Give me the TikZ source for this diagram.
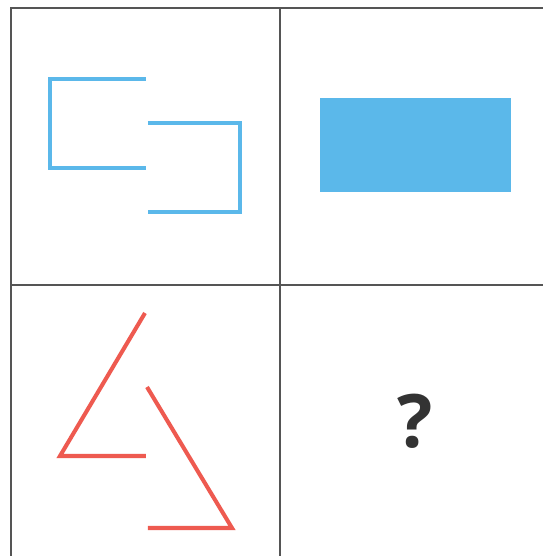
\documentclass[tikz,border=0pt]{standalone}
\usepackage{fontspec}
\newfontfamily\qfont{Open Sans}
\usetikzlibrary{positioning}
\definecolor{skyblue}{HTML}{5BB8EA}
\definecolor{coral}{HTML}{EE5A50}
\definecolor{gridgray}{HTML}{555555}
\definecolor{qgray}{HTML}{333333}

\begin{document}
\begin{tikzpicture}[
    x=0.02cm, y=-0.02cm,
    gridline/.style={draw=gridgray, line width=1.1pt},
    bluebracket/.style={draw=skyblue, line width=2.3pt, miter limit=10},
    redangle/.style={draw=coral, line width=2.3pt, miter limit=10},
    bluebox/.style={fill=skyblue},
    qmark/.style={font=\qfont\bfseries\fontsize{42}{42}\selectfont, text=qgray, inner sep=0pt}
]
    \useasboundingbox (0,0) rectangle (543,556);
    \fill[white] (0,0) rectangle (543,556);

    % grid of four cells
    \draw[gridline] (11,556) -- (11,8) -- (543,8);
    \draw[gridline] (280,8) -- (280,556);
    \draw[gridline] (11,285) -- (543,285);

    % top left: two open brackets
    \draw[bluebracket] (146,79) -- (50,79) -- (50,168) -- (146,168);
    \draw[bluebracket] (148,123) -- (240,123) -- (240,212) -- (148,212);

    % top right: the closed figure
    \fill[bluebox] (320,98) rectangle (511,192);

    % bottom left: two open angles
    \draw[redangle] (145,313) -- (60,456) -- (146,456);
    \draw[redangle] (147,387) -- (232,528) -- (148,528);

    % bottom right: the answer
    \node[qmark] (answer) at (415,421) {?};
\end{tikzpicture}
\end{document}
